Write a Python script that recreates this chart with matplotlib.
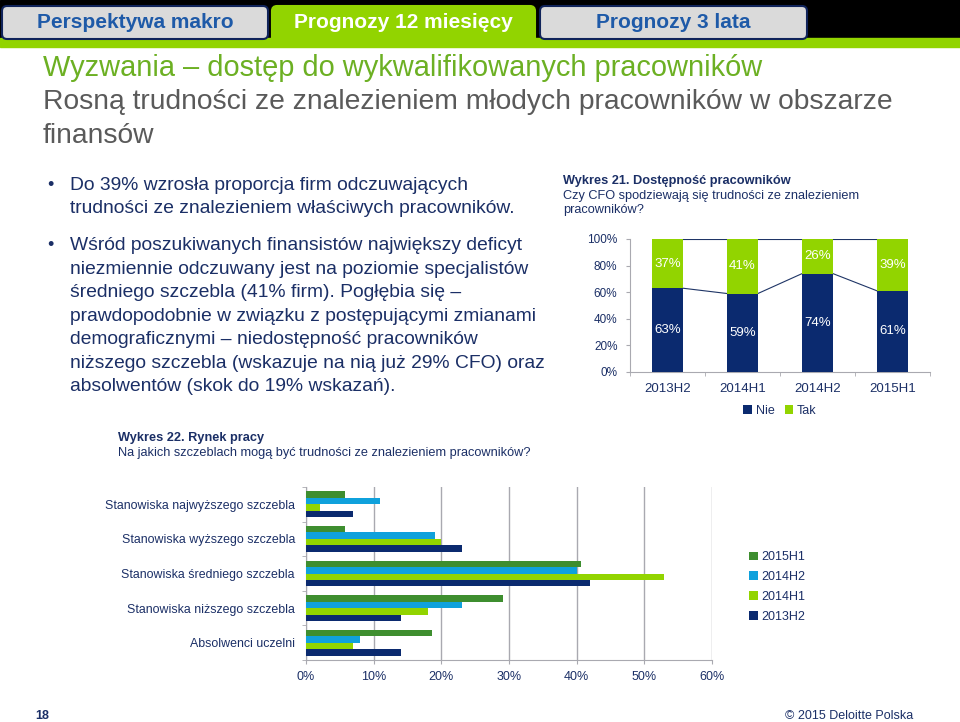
import matplotlib
matplotlib.use("Agg")
from matplotlib import pyplot as plt
from matplotlib.patches import Rectangle, FancyBboxPatch
import numpy as np

plt.rcParams['font.family'] = ['Liberation Sans', 'DejaVu Sans']

# --- data: Wykres 21 ---
periods = ['2013H2', '2014H1', '2014H2', '2015H1']
nie = [63, 59, 74, 61]
tak = [37, 41, 26, 39]

# --- data: Wykres 22 ---
levels = ['Stanowiska najwyższego szczebla', 'Stanowiska wyższego szczebla',
          'Stanowiska średniego szczebla', 'Stanowiska niższego szczebla',
          'Absolwenci uczelni']
s2015h1 = [5.8, 5.8, 40.7, 29.1, 18.6]
s2014h2 = [11.0, 19.0, 40.0, 23.0, 8.0]
s2014h1 = [2.0, 20.0, 52.9, 18.0, 7.0]
s2013h2 = [7.0, 23.0, 42.0, 14.0, 14.0]

NAVY = '#0B2A6F'
LGREEN = '#92D400'
DGREEN = '#3E8E2F'
LBLUE = '#0FA1DC'
TXT = '#1B2F66'
GRID = '#A9A9B0'

W, H = 960, 722
fig = plt.figure(figsize=(9.6, 7.22), dpi=100)

# background layer in pixel coords
bg = fig.add_axes([0, 0, 1, 1])
bg.set_xlim(0, W)
bg.set_ylim(H, 0)
bg.axis('off')

bg.add_patch(Rectangle((0, 0), W, 40, color='black', zorder=0))
bg.add_patch(Rectangle((0, 38), W, 9, color=LGREEN, zorder=1))
tabs = [(2, 266, '#DADADA', 'Perspektywa makro', '#1E5AA8'),
        (272, 263, LGREEN, 'Prognozy 12 miesięcy', 'white'),
        (540, 267, '#DADADA', 'Prognozy 3 lata', '#1E5AA8')]
for x0, w, fc, label, tc in tabs:
    h = 40 if fc == LGREEN else 33
    bg.add_patch(FancyBboxPatch((x0, 6), w, h, boxstyle='round,pad=0,rounding_size=5',
                                fc=fc, ec='#10235A' if fc != LGREEN else LGREEN,
                                lw=1.5, zorder=2))
    bg.text(x0 + w / 2, 23, label, color=tc, fontsize=15, fontweight='bold',
            ha='center', va='center', zorder=3)

bg.text(43, 68, 'Wyzwania – dostęp do wykwalifikowanych pracowników',
        color='#6CB023', fontsize=20.9, ha='left', va='center')
bg.text(43, 102, 'Rosną trudności ze znalezieniem młodych pracowników w obszarze',
        color='#5A5A5A', fontsize=20.3, ha='left', va='center')
bg.text(43, 136, 'finansów', color='#5A5A5A', fontsize=20.3, ha='left', va='center')

bullet1 = ['Do 39% wzrosła proporcja firm odczuwających',
           'trudności ze znalezieniem właściwych pracowników.']
bullet2 = ['Wśród poszukiwanych finansistów największy deficyt',
           'niezmiennie odczuwany jest na poziomie specjalistów',
           'średniego szczebla (41% firm). Pogłębia się –',
           'prawdopodobnie w związku z postępującymi zmianami',
           'demograficznymi – niedostępność pracowników',
           'niższego szczebla (wskazuje na nią już 29% CFO) oraz',
           'absolwentów (skok do 19% wskazań).']
for lines, y0 in [(bullet1, 185), (bullet2, 246)]:
    bg.text(47, y0, '•', color=TXT, fontsize=13, ha='left', va='center')
    for i, ln in enumerate(lines):
        bg.text(70, y0 + i * 23.4, ln, color=TXT, fontsize=13.9, ha='left', va='center')

bg.text(563, 181, 'Wykres 21. Dostępność pracowników', color=TXT, fontsize=9.2,
        fontweight='bold', va='center')
bg.text(563, 196, 'Czy CFO spodziewają się trudności ze znalezieniem', color=TXT,
        fontsize=9.2, va='center')
bg.text(563, 210, 'pracowników?', color=TXT, fontsize=9.2, va='center')

bg.text(118, 438, 'Wykres 22. Rynek pracy', color=TXT, fontsize=9.2,
        fontweight='bold', va='center')
bg.text(118, 453, 'Na jakich szczeblach mogą być trudności ze znalezieniem pracowników?',
        color=TXT, fontsize=9.2, va='center')

bg.text(35, 716, '18', color=TXT, fontsize=9, fontweight='bold', va='center')
bg.text(913, 716, '© 2015 Deloitte Polska', color=TXT, fontsize=9,
        ha='right', va='center')


def pix_axes(x0, y0, x1, y1):
    return fig.add_axes([x0 / W, 1 - y1 / H, (x1 - x0) / W, (y1 - y0) / H])


# --- Wykres 21: stacked columns ---
ax1 = pix_axes(630, 239, 930, 372)
x = np.arange(len(periods))
bw = 0.41
b1 = ax1.bar(x, nie, bw, color=NAVY, label='Nie', zorder=3)
b2 = ax1.bar(x, tak, bw, bottom=nie, color=LGREEN, label='Tak', zorder=3)
for i in range(len(periods)):
    ax1.text(x[i], nie[i] / 2, f'{nie[i]}%', color='white', fontsize=9.5,
             ha='center', va='center', zorder=4)
    ax1.text(x[i], nie[i] + tak[i] / 2, f'{tak[i]}%', color='white', fontsize=9.5,
             ha='center', va='center', zorder=4)
# series lines
tops = np.array(nie) + np.array(tak)
for i in range(len(periods) - 1):
    ax1.plot([x[i] + bw / 2, x[i + 1] - bw / 2], [nie[i], nie[i + 1]],
             color='#1F3566', lw=0.8, zorder=2)
    ax1.plot([x[i] + bw / 2, x[i + 1] - bw / 2], [tops[i], tops[i + 1]],
             color='#1F3566', lw=0.8, zorder=2)
ax1.set_xlim(-0.5, len(periods) - 0.5)
ax1.set_ylim(0, 100)
ax1.set_yticks(range(0, 101, 20))
ax1.set_yticklabels([f'{v}%' for v in range(0, 101, 20)])
ax1.set_xticks(x)
ax1.set_xticklabels(periods)
ax1.set_xticks(np.arange(-0.5, len(periods), 1), minor=True)
ax1.tick_params(axis='x', which='major', length=0, pad=8, labelsize=9.5, labelcolor=TXT)
ax1.tick_params(axis='x', which='minor', length=3, color=GRID)
ax1.tick_params(axis='y', length=3, color=GRID, labelsize=8.5, labelcolor=TXT, pad=6)
for s in ['top', 'right']:
    ax1.spines[s].set_visible(False)
for s in ['left', 'bottom']:
    ax1.spines[s].set_color(GRID)
ax1.legend(handles=[b1, b2], loc='center', bbox_to_anchor=(0.5, -0.29), ncol=2,
           frameon=False, handlelength=0.7, handleheight=0.7, handletextpad=0.3,
           columnspacing=0.8, fontsize=9, labelcolor=TXT)

# --- Wykres 22: horizontal grouped bars ---
ax2 = pix_axes(306, 487, 712, 660)
n = len(levels)
yc = np.arange(n)[::-1].astype(float)
bh = 0.185
series = [('2015H1', s2015h1, DGREEN), ('2014H2', s2014h2, LBLUE),
          ('2014H1', s2014h1, LGREEN), ('2013H2', s2013h2, NAVY)]
handles = []
for j, (name, vals, col) in enumerate(series):
    off = (1.5 - j) * bh
    hb = ax2.barh(yc + off, vals, bh, color=col, label=name, zorder=3)
    handles.append(hb)
ax2.set_xlim(0, 60)
ax2.set_ylim(-0.5, n - 0.5)
ax2.set_xticks(range(0, 61, 10))
ax2.set_xticklabels([f'{v}%' for v in range(0, 61, 10)])
ax2.set_yticks(yc)
ax2.set_yticklabels(levels)
ax2.set_yticks(np.arange(-0.5, n, 1), minor=True)
ax2.grid(axis='x', color=GRID, lw=1, zorder=0)
ax2.tick_params(axis='y', which='major', length=0, pad=8, labelsize=8.9, labelcolor=TXT)
ax2.tick_params(axis='y', which='minor', length=3, color=GRID)
ax2.tick_params(axis='x', length=3, color=GRID, labelsize=9, labelcolor=TXT, pad=5)
for s in ['top', 'right']:
    ax2.spines[s].set_visible(False)
for s in ['left', 'bottom']:
    ax2.spines[s].set_color(GRID)
fig.legend(handles=handles, loc='upper left', bbox_to_anchor=(738 / W, 1 - 540 / H),
           frameon=False, handlelength=0.7, handleheight=0.7, handletextpad=0.3,
           labelspacing=0.62, fontsize=9, labelcolor=TXT)

fig.savefig('out.png', dpi=100)
